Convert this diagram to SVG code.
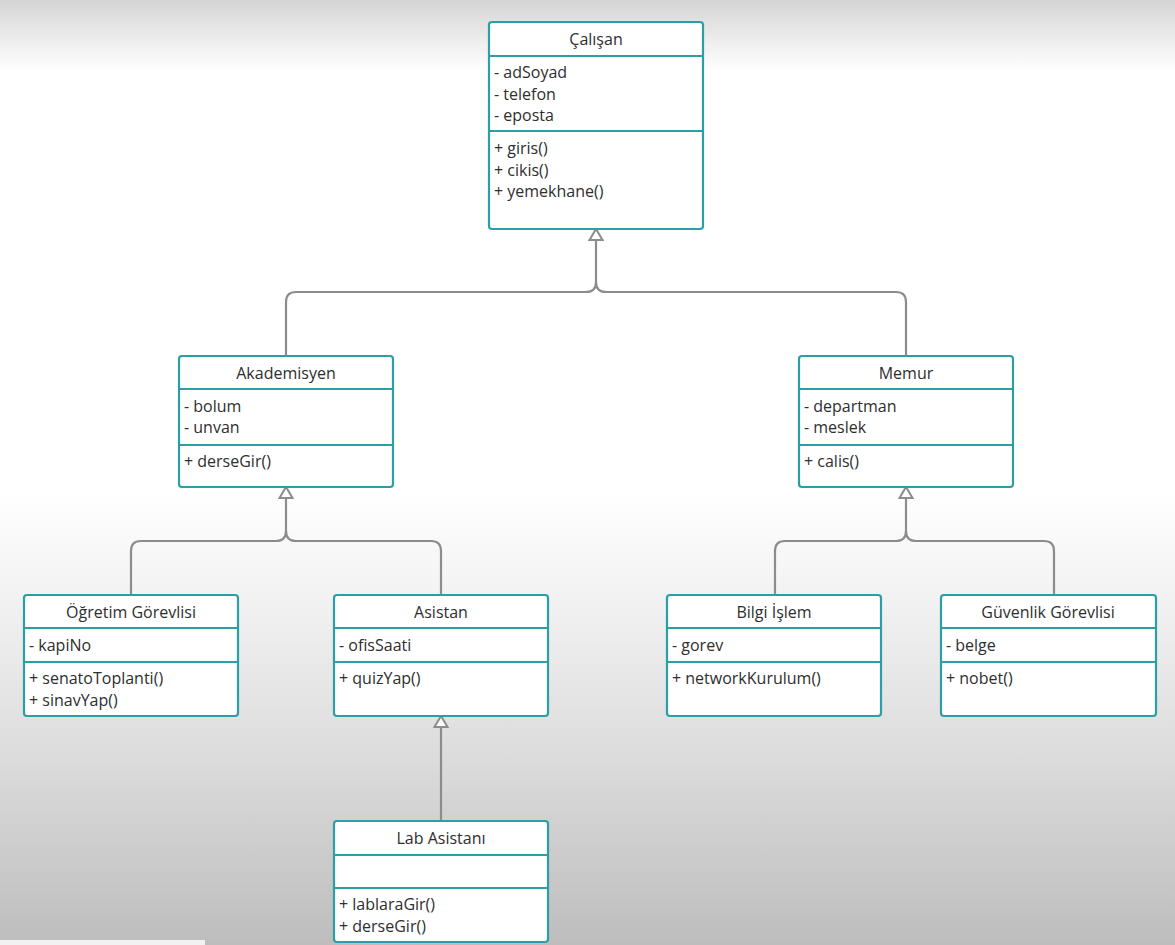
<svg xmlns="http://www.w3.org/2000/svg" width="1175" height="945" viewBox="0 0 1175 945">
<defs>
<linearGradient id="bg" x1="0" y1="0" x2="0" y2="1">
<stop offset="0" stop-color="#d5d5d5"/>
<stop offset="0.075" stop-color="#ffffff"/>
<stop offset="0.52" stop-color="#ffffff"/>
<stop offset="0.65" stop-color="#f0f0f0"/>
<stop offset="0.8" stop-color="#dcdcdc"/>
<stop offset="1" stop-color="#bdbdbd"/>
</linearGradient>
<marker id="inh" viewBox="0 0 16 16" refX="13" refY="8" markerWidth="16" markerHeight="16" markerUnits="userSpaceOnUse" orient="auto-start-reverse">
<path d="M2,1.5 L13,8 L2,14.5 Z" fill="#ffffff" stroke="#8c8c8c" stroke-width="2" stroke-linejoin="miter"/>
</marker>
</defs>
<style>
.box{fill:#ffffff;stroke:#2b9ea6;stroke-width:2.2}
.div{stroke:#2b9ea6;stroke-width:2.2}
.t{font-family:"Open Sans","Noto Sans","DejaVu Sans",sans-serif;font-size:16px;fill:#2e2e2e}
.c{text-anchor:middle}
.ln{fill:none;stroke:#8c8c8c;stroke-width:2.2}
</style>
<rect x="0" y="0" width="1175" height="945" fill="url(#bg)"/>
<rect x="0" y="940" width="205" height="5" fill="#f2f2f2"/>

<g id="connectors">
<path class="ln" d="M596,229 L596,282" marker-start="url(#inh)"/>
<path class="ln" d="M596,282 Q596,292 586,292 L296,292 Q286,292 286,302 L286,356"/>
<path class="ln" d="M596,282 Q596,292 606,292 L896,292 Q906,292 906,302 L906,356"/>
<path class="ln" d="M286,487 L286,531" marker-start="url(#inh)"/>
<path class="ln" d="M286,531 Q286,541 276,541 L141,541 Q131,541 131,551 L131,595"/>
<path class="ln" d="M286,531 Q286,541 296,541 L431,541 Q441,541 441,551 L441,595"/>
<path class="ln" d="M906,487 L906,531" marker-start="url(#inh)"/>
<path class="ln" d="M906,531 Q906,541 896,541 L785,541 Q775,541 775,551 L775,595"/>
<path class="ln" d="M906,531 Q906,541 916,541 L1044,541 Q1054,541 1054,551 L1054,595"/>
<path class="ln" d="M441,716 L441,821" marker-start="url(#inh)"/>
</g>

<g id="calisan">
<rect class="box" x="489" y="22" width="214" height="207" rx="3"/>
<line class="div" x1="489" y1="56" x2="703" y2="56"/>
<line class="div" x1="489" y1="131" x2="703" y2="131"/>
<text class="t c" x="596" y="45">Çalışan</text>
<text class="t" x="494" y="78">- adSoyad</text>
<text class="t" x="494" y="100">- telefon</text>
<text class="t" x="494" y="121">- eposta</text>
<text class="t" x="494" y="154">+ giris()</text>
<text class="t" x="494" y="176">+ cikis()</text>
<text class="t" x="494" y="197">+ yemekhane()</text>
</g>

<g id="akademisyen">
<rect class="box" x="179" y="356" width="214" height="131" rx="3"/>
<line class="div" x1="179" y1="389" x2="393" y2="389"/>
<line class="div" x1="179" y1="445" x2="393" y2="445"/>
<text class="t c" x="286" y="379">Akademisyen</text>
<text class="t" x="184" y="412">- bolum</text>
<text class="t" x="184" y="433">- unvan</text>
<text class="t" x="184" y="467">+ derseGir()</text>
</g>

<g id="memur">
<rect class="box" x="799" y="356" width="214" height="131" rx="3"/>
<line class="div" x1="799" y1="389" x2="1013" y2="389"/>
<line class="div" x1="799" y1="445" x2="1013" y2="445"/>
<text class="t c" x="906" y="379">Memur</text>
<text class="t" x="804" y="412">- departman</text>
<text class="t" x="804" y="433">- meslek</text>
<text class="t" x="804" y="467">+ calis()</text>
</g>

<g id="ogretim-gorevlisi">
<rect class="box" x="24" y="595" width="214" height="121" rx="3"/>
<line class="div" x1="24" y1="628" x2="238" y2="628"/>
<line class="div" x1="24" y1="662" x2="238" y2="662"/>
<text class="t c" x="131" y="618">Öğretim Görevlisi</text>
<text class="t" x="29" y="651">- kapiNo</text>
<text class="t" x="29" y="684">+ senatoToplanti()</text>
<text class="t" x="29" y="706">+ sinavYap()</text>
</g>

<g id="asistan">
<rect class="box" x="334" y="595" width="214" height="121" rx="3"/>
<line class="div" x1="334" y1="628" x2="548" y2="628"/>
<line class="div" x1="334" y1="662" x2="548" y2="662"/>
<text class="t c" x="441" y="618">Asistan</text>
<text class="t" x="339" y="651">- ofisSaati</text>
<text class="t" x="339" y="684">+ quizYap()</text>
</g>

<g id="bilgi-islem">
<rect class="box" x="667" y="595" width="214" height="121" rx="3"/>
<line class="div" x1="667" y1="628" x2="881" y2="628"/>
<line class="div" x1="667" y1="662" x2="881" y2="662"/>
<text class="t c" x="774" y="618">Bilgi İşlem</text>
<text class="t" x="672" y="651">- gorev</text>
<text class="t" x="672" y="684">+ networkKurulum()</text>
</g>

<g id="guvenlik-gorevlisi">
<rect class="box" x="941" y="595" width="215" height="121" rx="3"/>
<line class="div" x1="941" y1="628" x2="1156" y2="628"/>
<line class="div" x1="941" y1="662" x2="1156" y2="662"/>
<text class="t c" x="1048" y="618">Güvenlik Görevlisi</text>
<text class="t" x="946" y="651">- belge</text>
<text class="t" x="946" y="684">+ nobet()</text>
</g>

<g id="lab-asistani">
<rect class="box" x="334" y="821" width="214" height="121" rx="3"/>
<line class="div" x1="334" y1="855" x2="548" y2="855"/>
<line class="div" x1="334" y1="888" x2="548" y2="888"/>
<text class="t c" x="441" y="844">Lab Asistanı</text>
<text class="t" x="339" y="910">+ lablaraGir()</text>
<text class="t" x="339" y="932">+ derseGir()</text>
</g>
</svg>
